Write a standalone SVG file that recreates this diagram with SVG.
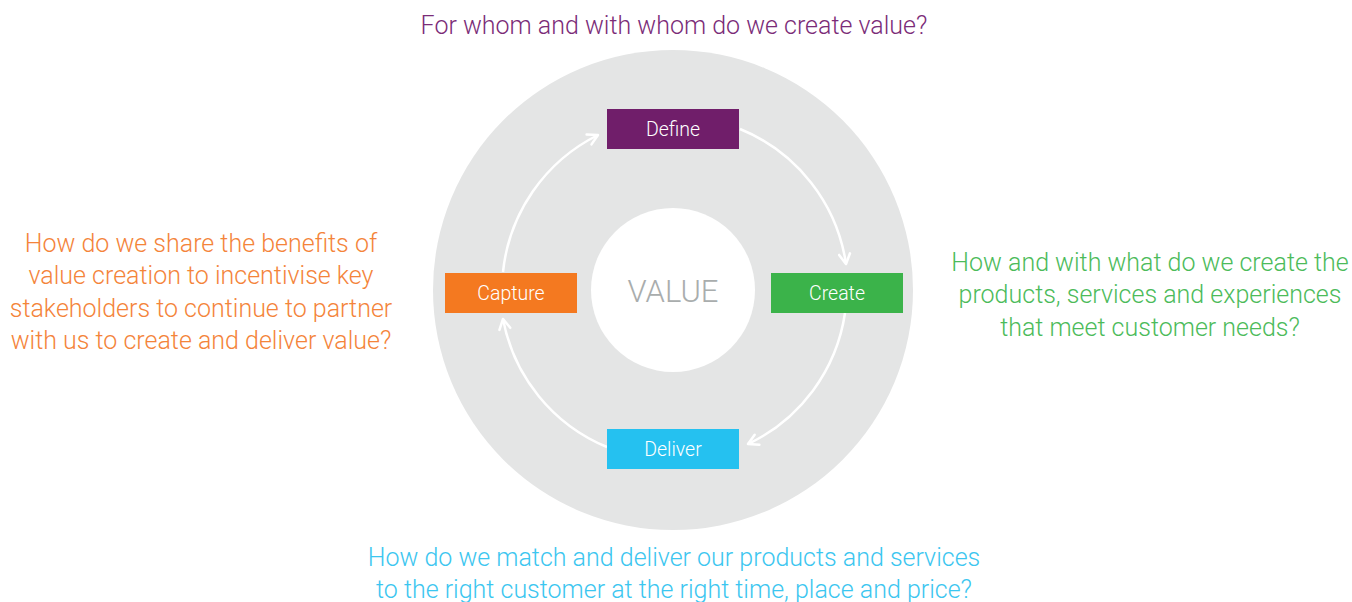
<svg xmlns="http://www.w3.org/2000/svg" width="1352" height="602" viewBox="0 0 1352 602">
<defs>
<style>
text{font-family:Roboto,"Liberation Sans",sans-serif;font-weight:300;text-anchor:middle}
.q{font-size:25px}
.lbl{font-size:19.5px;fill:#ffffff}
.arc{fill:none;stroke:#ffffff;stroke-width:2.5;marker-end:url(#ah)}
</style>
<marker id="ah" viewBox="0 0 14 14" refX="12" refY="7" markerWidth="14" markerHeight="14" markerUnits="userSpaceOnUse" orient="auto">
<path d="M2,1.5 L12,7 L2,12.5" fill="none" stroke="#ffffff" stroke-width="2.5" stroke-linecap="round" stroke-linejoin="round"/>
</marker>
</defs>
<rect width="1352" height="602" fill="#ffffff"/>
<g id="ring">
<circle cx="673" cy="290" r="240" fill="#e4e5e5"/>
<circle cx="673" cy="290" r="82" fill="#ffffff"/>
</g>
<g id="connectors">
<path class="arc" d="M740,129 A173,173 0 0 1 846,264"/>
<path class="arc" d="M845,313 A173,173 0 0 1 748,444"/>
<path class="arc" d="M607,447 A173,173 0 0 1 503,319"/>
<path class="arc" d="M503,272 A173,173 0 0 1 598,135"/>
</g>
<g id="value"><text x="673" y="302" style="font-size:31px;fill:#a9adad">VALUE</text></g>
<g id="define"><rect x="607" y="109" width="132" height="40" fill="#701e6a"/><text class="lbl" x="673" y="135.5">Define</text></g>
<g id="create"><rect x="771" y="273" width="132" height="40" fill="#3bb34a"/><text class="lbl" x="837" y="299.5">Create</text></g>
<g id="deliver"><rect x="607" y="429" width="132" height="40" fill="#25c1f0"/><text class="lbl" x="673" y="455.5">Deliver</text></g>
<g id="capture"><rect x="445" y="273" width="132" height="40" fill="#f47920"/><text class="lbl" x="511" y="299.5">Capture</text></g>
<g id="q-define"><text class="q" x="674" y="34" fill="#7b2c78">For whom and with whom do we create value?</text></g>
<g id="q-capture" fill="#f4843a">
<text class="q" x="201" y="252">How do we share the benefits of</text>
<text class="q" x="201" y="284">value creation to incentivise key</text>
<text class="q" x="201" y="317">stakeholders to continue to partner</text>
<text class="q" x="201" y="349">with us to create and deliver value?</text>
</g>
<g id="q-create" fill="#4cbb5a">
<text class="q" x="1150" y="271">How and with what do we create the</text>
<text class="q" x="1150" y="303">products, services and experiences</text>
<text class="q" x="1150" y="336">that meet customer needs?</text>
</g>
<g id="q-deliver" fill="#3cc6f0">
<text class="q" x="674" y="566">How do we match and deliver our products and services</text>
<text class="q" x="674" y="598">to the right customer at the right time, place and price?</text>
</g>
</svg>
